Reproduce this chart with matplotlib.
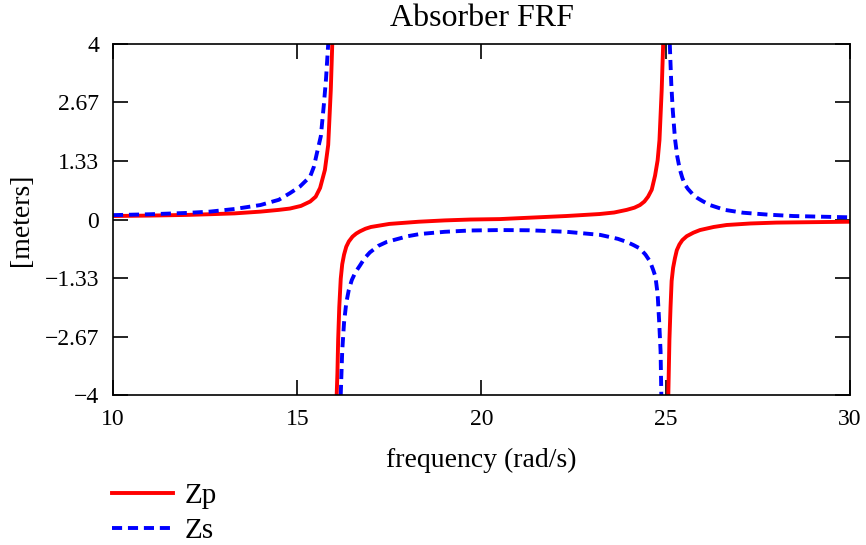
import numpy as np
import matplotlib
matplotlib.use("Agg")
import matplotlib.pyplot as plt

plt.rcParams['font.family'] = ['Liberation Serif', 'DejaVu Serif']

nan = np.nan

# Zp - primary mass response
freq_p = [10, 11, 12, 12.6, 13.3, 14, 14.5, 14.8, 15.1, 15.35, 15.5, 15.62, 15.75, 15.84, 15.91, 15.95,
          nan,
          16.07, 16.09, 16.11, 16.14, 16.18, 16.22, 16.27, 16.33, 16.4, 16.5, 16.6, 16.7, 16.85, 17.0,
          17.5, 18.3, 19.0, 19.7, 20.5, 21.0, 22.3, 23.2, 23.6, 23.94, 24.15, 24.3, 24.42, 24.52, 24.62,
          24.71, 24.78, 24.83, 24.89, 24.93,
          nan,
          25.07, 25.10, 25.13, 25.16, 25.2, 25.25, 25.3, 25.37, 25.45, 25.57, 25.75, 25.93, 26.3, 26.65,
          27.3, 28.0, 29.0, 30.0]
zp = [0.08, 0.09, 0.105, 0.12, 0.14, 0.18, 0.22, 0.25, 0.31, 0.41, 0.52, 0.72, 1.13, 1.7, 2.95, 4.0,
      nan,
      -4.0, -3.5, -2.74, -2.0, -1.35, -1.02, -0.8, -0.62, -0.5, -0.39, -0.32, -0.27, -0.21, -0.17,
      -0.10, -0.05, -0.02, 0.0, 0.01, 0.03, 0.08, 0.125, 0.16, 0.22, 0.27, 0.33, 0.41, 0.52, 0.68,
      1.0, 1.35, 1.81, 2.95, 4.0,
      nan,
      -4.0, -2.74, -2.0, -1.4, -1.1, -0.88, -0.7, -0.57, -0.47, -0.38, -0.30, -0.24, -0.17, -0.125,
      -0.09, -0.07, -0.06, -0.05]

# Zs - absorber mass response
freq_s = [10, 11, 12, 12.63, 13.3, 14, 14.5, 14.8, 15.07, 15.35, 15.45, 15.53, 15.64, 15.72, 15.78, 15.84,
          nan,
          16.18, 16.22, 16.27, 16.33, 16.4, 16.48, 16.58, 16.7, 16.83, 16.97, 17.2, 17.43, 18.0, 18.33,
          19.0, 19.69, 20.5, 21.3, 22.31, 23.22, 23.7, 23.94, 24.12, 24.3, 24.45, 24.57, 24.66, 24.72,
          24.78, 24.82, 24.86, 24.88,
          nan,
          25.11, 25.15, 25.19, 25.25, 25.31, 25.38, 25.45, 25.52, 25.6, 25.75, 25.84, 26.0, 26.2, 26.6,
          27.1, 27.8, 28.46, 29.2, 30.0]
zs = [0.10, 0.12, 0.15, 0.18, 0.24, 0.33, 0.45, 0.60, 0.75, 0.98, 1.2, 1.5, 1.9, 2.6, 3.2, 4.0,
      nan,
      -4.0, -3.0, -2.35, -1.9, -1.6, -1.38, -1.2, -1.05, -0.88, -0.75, -0.6, -0.51, -0.38, -0.33,
      -0.28, -0.25, -0.24, -0.245, -0.28, -0.35, -0.44, -0.51, -0.58, -0.66, -0.8, -0.95, -1.15, -1.3,
      -1.7, -2.3, -3.0, -4.0,
      nan,
      4.0, 3.1, 2.5, 1.85, 1.45, 1.15, 0.95, 0.8, 0.7, 0.56, 0.5, 0.42, 0.33, 0.22,
      0.155, 0.11, 0.08, 0.065, 0.05]

yticks = [4, 2.67, 1.33, 0, -1.33, -2.67, -4]
ytick_labels = ['4', '2.67', '1.33', '0', '\u22121.33', '\u22122.67', '\u22124']
xticks = [10, 15, 20, 25, 30]

fig = plt.figure(figsize=(8.66, 5.45), dpi=100)
ax = fig.add_axes([0.1305, 0.2752, 0.851, 0.644])

l1, = ax.plot(freq_p, zp, color='#ff0000', lw=2.8, label='Zp')
l2, = ax.plot(freq_s, zs, color='#0000ff', lw=2.8, dashes=(2.6, 1.5), label='Zs')

ax.set_xlim(10, 30)
ax.set_ylim(-4, 4)
ax.set_xticks(xticks)
ax.set_yticks(yticks)
ax.set_yticklabels(ytick_labels)
ax.tick_params(direction='in', length=11, width=1.2, top=True, right=True,
               labelsize=17, pad=10)
for s in ax.spines.values():
    s.set_linewidth(1.2)

ax.set_title('Absorber FRF', fontsize=23, pad=13)
ax.set_xlabel('frequency (rad/s)', fontsize=20, labelpad=13)
ax.set_ylabel('[meters]', fontsize=20, labelpad=8)

fig.legend(handles=[l1, l2], loc='upper left', bbox_to_anchor=(0.129, 0.115),
           frameon=False, fontsize=21, handlelength=2.1, handletextpad=0.4,
           labelspacing=0.32, borderpad=0, borderaxespad=0)

fig.savefig('out.png', dpi=100)
